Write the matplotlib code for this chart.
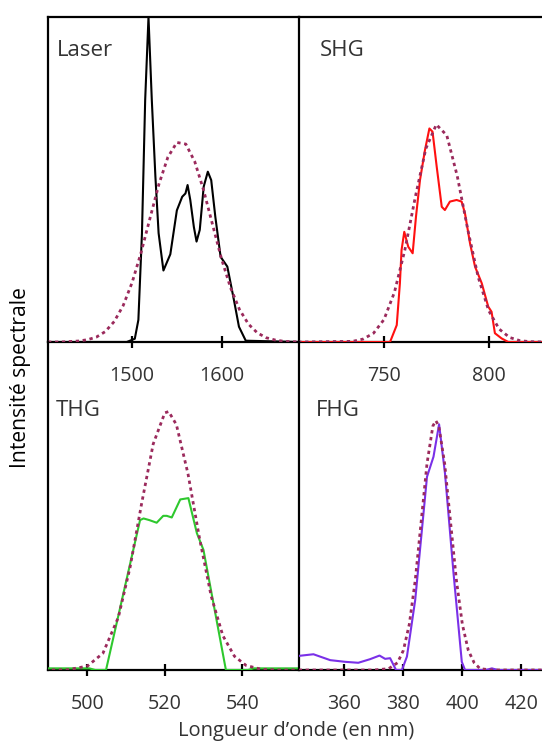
import matplotlib
matplotlib.use('Agg')
import matplotlib.pyplot as plt

plt.rcParams['font.family'] = ['Open Sans', 'DejaVu Sans']

# ---------------- data ----------------
laser_nm = [1406, 1494, 1503, 1507, 1511, 1514.6, 1518.3, 1522, 1526, 1529.6, 1535,
            1542.7, 1550, 1556, 1559.6, 1562, 1565, 1569, 1572, 1575.6, 1580, 1584.6,
            1588.4, 1593, 1598.9, 1606.4, 1613.8, 1619.4, 1627, 1687]
laser_int = [0, 0, 0.01, 0.068, 0.335, 0.745, 1.0, 0.745, 0.51, 0.335, 0.22,
             0.27, 0.405, 0.447, 0.457, 0.483, 0.437, 0.354, 0.309, 0.345, 0.478, 0.524,
             0.498, 0.385, 0.262, 0.232, 0.129, 0.047, 0.004, 0]
laser_fit_nm = [1406, 1420, 1440, 1450, 1460, 1470, 1480, 1490, 1500, 1510, 1520, 1530,
                1540, 1550, 1560, 1570, 1580, 1590, 1600, 1610, 1620, 1630, 1640, 1650,
                1660, 1670, 1687]
laser_fit = [0, 0, 0.003, 0.007, 0.015, 0.032, 0.063, 0.112, 0.183, 0.275, 0.381, 0.486,
             0.569, 0.614, 0.609, 0.555, 0.466, 0.360, 0.255, 0.167, 0.100, 0.055, 0.028,
             0.013, 0.006, 0.002, 0]

shg_nm = [709, 751.3, 752.9, 756.1, 757.6, 758.4, 759.7, 761.6, 763.7, 765.3, 767.2,
          769.6, 771.7, 773.2, 775.2, 777.6, 779.1, 781.5, 784.7, 787.1, 788.7, 791.1,
          793.5, 796.7, 799.8, 801.4, 803, 806.2, 809.4, 826]
shg_int = [0, 0, 0.0, 0.052, 0.18, 0.283, 0.339, 0.293, 0.273, 0.386, 0.498,
           0.591, 0.657, 0.647, 0.539, 0.416, 0.406, 0.432, 0.437, 0.432, 0.396, 0.304,
           0.232, 0.181, 0.109, 0.093, 0.027, 0.011, 0, 0]
shg_fit_nm = [709, 735, 740, 745, 750, 755, 760, 765, 770, 775, 780, 785, 790, 795,
              800, 805, 810, 815, 820, 826]
shg_fit = [0, 0.002, 0.009, 0.027, 0.069, 0.153, 0.284, 0.447, 0.595, 0.669, 0.636,
           0.511, 0.347, 0.200, 0.097, 0.040, 0.014, 0.004, 0.001, 0]

thg_nm = [489, 500.5, 502, 504.8, 513.6, 514.5, 516, 517.9, 519.6, 520.5, 521.8, 524,
          526.1, 528.3, 530, 535.8, 541.5, 543, 555]
thg_int = [0.005, 0.005, 0, 0, 0.457, 0.462, 0.457, 0.449, 0.47, 0.47, 0.465, 0.52,
           0.524, 0.417, 0.366, 0, 0, 0.005, 0.005]
thg_fit_nm = [489, 495, 500, 504, 508, 511, 514, 517, 520, 521, 523, 526, 529, 532,
              535, 538, 541, 545, 550, 555]
thg_fit = [0, 0.001, 0.012, 0.051, 0.161, 0.312, 0.507, 0.689, 0.784, 0.788, 0.748,
           0.598, 0.400, 0.225, 0.105, 0.042, 0.014, 0.002, 0, 0]

fhg_nm = [344.5, 349.5, 355.2, 360.2, 364.7, 368.7, 371.9, 373.8, 375.5, 377.5, 379.5,
          381.2, 384, 388, 390.2, 392.1, 394.1, 397, 399.8, 400.9, 408, 410, 412, 427]
fhg_int = [0.043, 0.048, 0.030, 0.025, 0.022, 0.033, 0.044, 0.034, 0.036, 0.0, 0.0,
           0.041, 0.213, 0.589, 0.650, 0.749, 0.60, 0.295, 0.025, 0, 0, 0.005, 0, 0]
fhg_fit_nm = [344.5, 370, 375, 378, 380, 382, 384, 386, 388, 390, 391, 392, 394, 396,
              398, 400, 402, 404, 406, 410, 427]
fhg_fit = [0, 0, 0.004, 0.022, 0.060, 0.139, 0.272, 0.450, 0.629, 0.744, 0.76, 0.744,
           0.629, 0.450, 0.272, 0.139, 0.060, 0.022, 0.004, 0, 0]

panel_names = ["Laser", "SHG", "THG", "FHG"]
ticks_laser = [1500, 1600]
ticks_shg = [750, 800]
ticks_thg = [500, 520, 540]
ticks_fhg = [360, 380, 400, 420]

# ---------------- figure ----------------
W, H = 542, 743
fig = plt.figure(figsize=(W / 100, H / 100), dpi=100)


def ax_px(x0, y0, x1, y1):
    return fig.add_axes([x0 / W, 1 - y1 / H, (x1 - x0) / W, (y1 - y0) / H])


FIT_COLOR = '#9b2a5c'
TXT = '#333333'
LW_SP = 1.6

ax_tl = ax_px(48, 17, 299, 342)
ax_tr = ax_px(299, 17, 542, 342)
ax_bl = ax_px(48, 342, 299, 670)
ax_br = ax_px(299, 342, 542, 670)

specs = [
    (ax_tl, laser_nm, laser_int, laser_fit_nm, laser_fit, 'black', (1406, 1686.5), ticks_laser,
     dict(left=True, top=True, right=False, bottom=True)),
    (ax_tr, shg_nm, shg_int, shg_fit_nm, shg_fit, '#ff1010', (709.4, 825.5), ticks_shg,
     dict(left=True, top=True, right=False, bottom=True)),
    (ax_bl, thg_nm, thg_int, thg_fit_nm, thg_fit, '#2ec82e', (489.8, 554.7), ticks_thg,
     dict(left=True, top=False, right=False, bottom=True)),
    (ax_br, fhg_nm, fhg_int, fhg_fit_nm, fhg_fit, '#7a30e8', (344.6, 427), ticks_fhg,
     dict(left=True, top=False, right=False, bottom=True)),
]

for ax, xs, ys, fx, fy, col, xl, tk, sp in specs:
    ax.plot(xs, ys, color=col, lw=1.5, zorder=3, solid_joinstyle='round')
    ax.plot(fx, fy, color=FIT_COLOR, lw=2.0, ls=(0, (1.2, 1.3)), zorder=4,
            dash_capstyle='butt')
    ax.set_xlim(*xl)
    ax.set_ylim(0, 1.0)
    ax.set_yticks([])
    ax.set_xticks(tk)
    ax.tick_params(axis='x', direction='inout', length=9, width=1.6, pad=13,
                   labelsize=14.2, labelcolor=TXT, color='black')
    for k, v in sp.items():
        ax.spines[k].set_visible(v)
        ax.spines[k].set_linewidth(LW_SP)
        ax.spines[k].set_color('black')
    ax.patch.set_alpha(0)

# panel names
fig.text(57 / W, 1 - 50 / H, "Laser", fontsize=16, color=TXT, va='center', ha='left')
fig.text(320 / W, 1 - 50 / H, "SHG", fontsize=16, color=TXT, va='center', ha='left')
fig.text(56 / W, 1 - 410 / H, "THG", fontsize=16, color=TXT, va='center', ha='left')
fig.text(316 / W, 1 - 410 / H, "FHG", fontsize=16, color=TXT, va='center', ha='left')

fig.text(21 / W, 1 - 378 / H, "Intensité spectrale", rotation=90, fontsize=15.2,
         color='black', va='center', ha='center')
fig.text(296 / W, 1 - 731 / H, "Longueur d’onde (en nm)", fontsize=14.5,
         color=TXT, va='center', ha='center')

fig.savefig('out.png', dpi=100)
